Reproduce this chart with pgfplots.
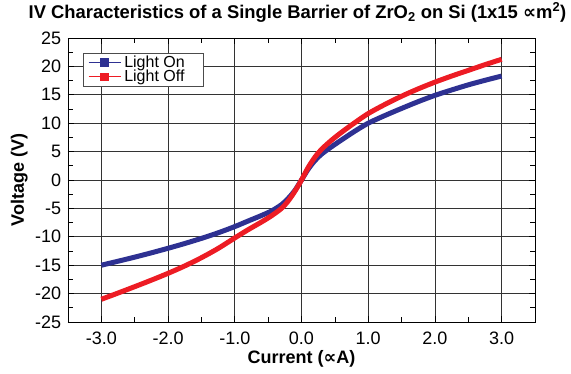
\documentclass[border=0pt]{standalone}
\usepackage{pgfplots}
\pgfplotsset{compat=1.18}
\usepackage{fontspec}
\setmainfont{Liberation Sans}
\newfontfamily\djv{DejaVu Sans}
\definecolor{onblue}{RGB}{46,49,146}
\definecolor{offred}{RGB}{237,28,36}
\begin{document}
\begin{tikzpicture}
\useasboundingbox (-68pt,-51pt) rectangle (503pt,322pt);
\begin{axis}[
 at={(0,0)}, anchor=south west,
 scale only axis, width=467pt, height=284pt,
 xmin=-3.5, xmax=3.5, ymin=-25, ymax=25,
 xtick={-3,-2,-1,0,1,2,3},
 xticklabels={-3.0,-2.0,-1.0,0.0,1.0,2.0,3.0},
 ytick={-25,-20,-15,-10,-5,0,5,10,15,20,25},
 minor xtick={-2.5,-1.5,-0.5,0.5,1.5,2.5},
 minor ytick={-22.5,-17.5,-12.5,-7.5,-2.5,2.5,7.5,12.5,17.5,22.5},
 grid=major, major grid style={black!80, line width=0.7pt},
 minor grid style={draw=none},
 tick align=inside, major tick length=6pt, minor tick length=5pt,
 every tick/.style={black, line width=0.7pt},
 axis line style={black, line width=0.8pt},
 /pgf/number format/assume math mode=true,
 ticklabel style={font=\fontsize{18}{20}\selectfont},
 xticklabel style={anchor=base, yshift=-22pt},
 yticklabel style={xshift=-3.4pt},
 title={IV Characteristics of a Single Barrier of ZrO\textsubscript{2} on Si (1x15 {\djv ∝}m\textsuperscript{2})},
 title style={at={(axis description cs:0.4914,1.0493)}, anchor=base, font=\bfseries\fontsize{18.4}{20}\selectfont},
 xlabel={Current ({\djv ∝}A)},
 xlabel style={at={(axis description cs:0.5,-0.1444)}, anchor=base, font=\bfseries\fontsize{18}{20}\selectfont},
 ylabel={Voltage (V)},
 ylabel style={at={(axis description cs:-0.0945,0.5)}, anchor=base, font=\bfseries\fontsize{18}{20}\selectfont},
 legend style={at={(axis description cs:0.0321,0.9472)}, anchor=north west,
   draw=black!70, line width=0.6pt, fill=white,
   font=\fontsize{16}{18}\selectfont,
   nodes={inner sep=0.3pt, anchor=west}, column sep=3pt, row sep=0.8pt,
   inner xsep=5pt, inner ysep=2.2pt},
 legend cell align=left,
]
\addplot[onblue, line width=5pt, smooth,
  legend image code/.code={\draw[onblue, line width=0.7pt] (0pt,0pt) -- (32pt,0pt);
    \fill[onblue] (14.2pt,-1.8pt) rectangle (17.8pt,1.8pt);}]
coordinates {
(-3.0,-15.0) (-2.75,-14.3) (-2.5,-13.58) (-2.25,-12.82) (-2.0,-12.02)
(-1.75,-11.18) (-1.5,-10.28) (-1.25,-9.3) (-1.0,-8.2) (-0.8,-7.22)
(-0.6,-6.25) (-0.45,-5.45) (-0.3,-4.35) (-0.2,-3.25) (-0.1,-1.85)
(0,0) (0.1,1.9) (0.2,3.4) (0.3,4.55) (0.45,5.85) (0.6,7.05) (0.8,8.6)
(1.0,10.0) (1.25,11.35) (1.5,12.6) (1.75,13.8) (2.0,14.9) (2.25,15.85)
(2.5,16.75) (2.75,17.55) (3.0,18.3)
};
\addlegendentry{\makebox[74pt][l]{Light On}}
\addplot[offred, line width=5pt, smooth,
  legend image code/.code={\draw[offred, line width=0.7pt] (0pt,0pt) -- (32pt,0pt);
    \fill[offred] (14.2pt,-1.8pt) rectangle (17.8pt,1.8pt);}]
coordinates {
(-3.0,-21.0) (-2.75,-19.9) (-2.5,-18.78) (-2.25,-17.63) (-2.0,-16.43)
(-1.75,-15.13) (-1.5,-13.68) (-1.25,-12.05) (-1.0,-10.2) (-0.8,-8.75)
(-0.6,-7.4) (-0.45,-6.3) (-0.3,-5.0) (-0.2,-3.7) (-0.1,-2.0)
(0,0) (0.1,2.2) (0.2,4.0) (0.3,5.4) (0.45,7.0) (0.6,8.4) (0.8,10.1)
(1.0,11.7) (1.25,13.3) (1.5,14.75) (1.75,16.05) (2.0,17.23) (2.25,18.3)
(2.5,19.3) (2.75,20.3) (3.0,21.25)
};
\addlegendentry{\makebox[74pt][l]{Light Off}}
\end{axis}
\end{tikzpicture}
\end{document}
